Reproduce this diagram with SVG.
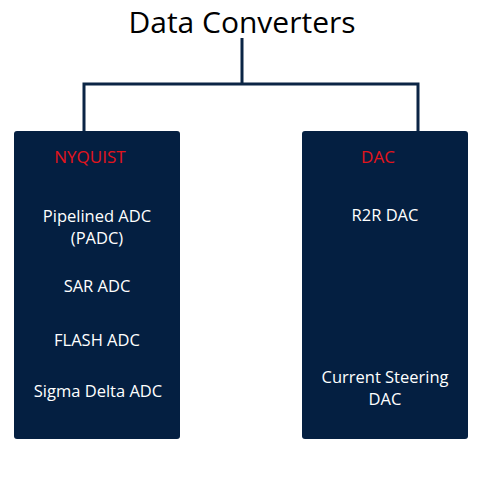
<svg xmlns="http://www.w3.org/2000/svg" width="500" height="500" viewBox="0 0 500 500">
<style>
.box{fill:#041f41;}
.conn{fill:none;stroke:#0b2545;stroke-width:3;}
.t{font-family:"Open Sans","DejaVu Sans",sans-serif;font-size:16.5px;text-anchor:middle;fill:#ffffff;}
.h{fill:#e3141c;font-size:17px;}
.title{font-family:"Open Sans","DejaVu Sans",sans-serif;font-size:30px;text-anchor:middle;fill:#000000;}
</style>
<rect width="500" height="500" fill="#ffffff"/>
<text class="title" x="242" y="32.5">Data Converters</text>
<g id="connectors">
<path class="conn" d="M242,38 V84"/>
<path class="conn" d="M84,131 V84 H418 V131"/>
</g>
<g id="nyquist">
<rect class="box" x="14" y="131" width="166" height="308" rx="3"/>
<text class="t h" x="90" y="163">NYQUIST</text>
<text class="t" x="97" y="222">Pipelined ADC</text>
<text class="t" x="97" y="244">(PADC)</text>
<text class="t" x="97" y="292">SAR ADC</text>
<text class="t" x="97" y="346">FLASH ADC</text>
<text class="t" x="98" y="397">Sigma Delta ADC</text>
</g>
<g id="dac">
<rect class="box" x="302" y="131" width="166" height="308" rx="3"/>
<text class="t h" x="378" y="163">DAC</text>
<text class="t" x="385" y="221">R2R DAC</text>
<text class="t" x="385" y="383">Current Steering</text>
<text class="t" x="385" y="405">DAC</text>
</g>
</svg>
